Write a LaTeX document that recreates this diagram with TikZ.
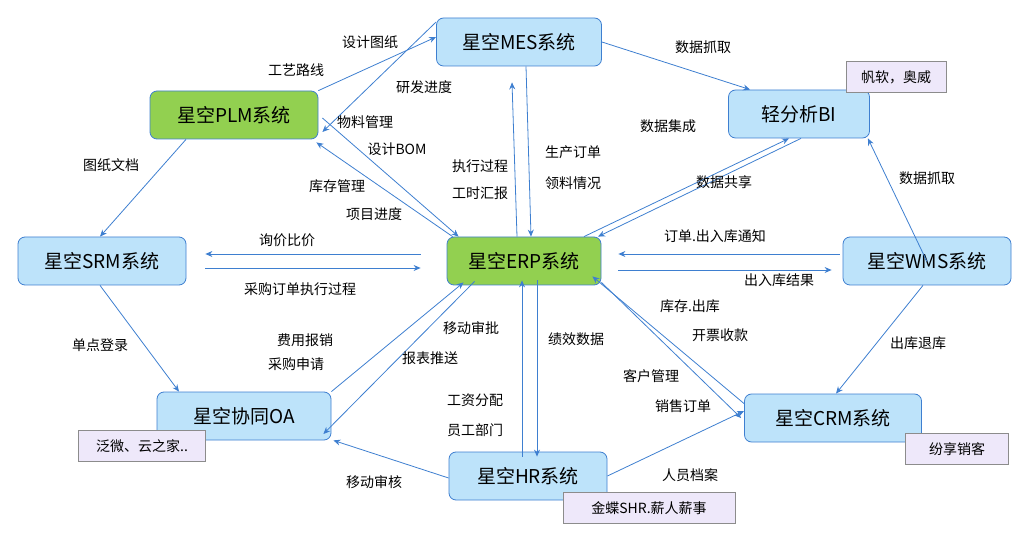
\documentclass[tikz,border=0pt]{standalone}
\usepackage{fontspec}
\setmainfont{Noto Sans CJK SC}
\usetikzlibrary{arrows.meta}
\definecolor{boxblue}{HTML}{BDE3FA}
\definecolor{lineblue}{HTML}{3E7FD0}
\definecolor{boxgreen}{HTML}{92D050}
\definecolor{taglav}{HTML}{EEE8FA}
\tikzset{sys/.style={rectangle,rounded corners=7pt,draw=lineblue,fill=boxblue,thick,font=\fontsize{19}{19}\selectfont,minimum height=48pt,inner sep=0pt}}
\tikzset{core/.style={sys,fill=boxgreen,draw=lineblue}}
\tikzset{tag/.style={rectangle,draw=black!45,fill=taglav,font=\fontsize{14}{14}\selectfont,minimum height=31pt,inner sep=0pt}}
\tikzset{t/.style={font=\fontsize{14}{14}\selectfont,inner sep=0pt}}
\tikzset{arr/.style={draw=lineblue,thick,-{Stealth[length=7pt,width=6pt]}}}

\begin{document}
\begin{tikzpicture}[x=1pt,y=-1pt]
      \useasboundingbox (0,0) rectangle (1027,534);
      \node[sys,minimum width=165pt] (MES) at (519,42) {星空MES系统};
      \node[core,minimum width=168pt] (PLM) at (234,115) {星空PLM系统};
      \node[sys,minimum width=141pt] (BI) at (799,114) {轻分析BI};
      \node[sys,minimum width=168pt] (SRM) at (102,261) {星空SRM系统};
      \node[core,minimum width=154pt] (ERP) at (524,261) {星空ERP系统};
      \node[sys,minimum width=168pt] (WMS) at (927,261) {星空WMS系统};
      \node[sys,minimum width=174pt] (OA) at (244,416) {星空协同OA};
      \node[sys,minimum width=177pt] (CRM) at (833,418) {星空CRM系统};
      \node[sys,minimum width=158pt] (HR) at (528,476) {星空HR系统};
      \node[tag,minimum width=100pt] (T1) at (896,77) {帆软，奥威};
      \node[tag,minimum width=127pt] (T2) at (142,446) {泛微、云之家..};
      \node[tag,minimum width=103pt] (T3) at (957,449) {纷享销客};
      \node[tag,minimum width=172pt] (T4) at (649,508) {金蝶SHR.薪人薪事};
      % connectors
      \draw[arr] (PLM.north east) -- ([yshift=5]MES.west);
      \draw[arr] ([yshift=20]MES.west) -- ([xshift=4,yshift=-17]PLM.east);
      \draw[arr] (MES.east) -- ([xshift=22]BI.north west);
      \draw[arr] ([xshift=60]ERP.north) -- ([xshift=-10]BI.south);
      \draw[arr] ([xshift=2]BI.south) -- ([xshift=74]ERP.north);
      \draw[arr] ([xshift=7]MES.south) -- ([xshift=7]ERP.north);
      \draw[arr] ([xshift=-7]ERP.north) -- ([xshift=-7,yshift=-16]MES.south);
      \draw[arr] ([xshift=4,yshift=-3]PLM.east) -- ([xshift=12]ERP.north west);
      \draw[arr] ([xshift=6]ERP.north west) -- ([xshift=-2,yshift=-3]PLM.south east);
      \draw[arr] ([xshift=-48]PLM.south) -- ([xshift=-2]SRM.north);
      \draw[arr] ([xshift=19,yshift=-7]SRM.east) -- ([xshift=-26,yshift=-7]ERP.west);
      \draw[arr] ([xshift=-26,yshift=7]ERP.west) -- ([xshift=19,yshift=7]SRM.east);
      \draw[arr] ([xshift=17,yshift=-9]ERP.east) -- ([xshift=-11,yshift=-9]WMS.west);
      \draw[arr] ([xshift=-3,yshift=7]WMS.west) -- ([xshift=17,yshift=7]ERP.east);
      \draw[arr] ([yshift=-25]WMS.north) -- ([xshift=-2]BI.south east);
      \draw[arr] ([xshift=-4]WMS.south) -- ([xshift=3]CRM.north);
      \draw[arr] ([xshift=-2]SRM.south) -- ([xshift=-65]OA.north);
      \draw[arr] ([xshift=0]OA.north east) -- ([xshift=17,yshift=3]ERP.south west);
      \draw[arr] ([xshift=28,yshift=4]ERP.south west) -- ([xshift=-8,yshift=-18]OA.east);
      \draw[arr] ([xshift=13,yshift=5]ERP.south) -- ([xshift=9,yshift=-5]HR.north);
      \draw[arr] ([xshift=-6,yshift=-5]HR.north) -- ([xshift=-2,yshift=5]ERP.south);
      \draw[arr] ([yshift=3]ERP.south east) -- ([xshift=-3]CRM.west);
      \draw[arr] ([yshift=-10]CRM.north west) -- ([xshift=-9,yshift=9]ERP.south east);
      \draw[arr] ([yshift=-2]HR.west) -- ([xshift=2]OA.south east);
      \draw[arr] (HR.east) -- ([yshift=7]CRM.west);
      % labels
      \node[t] (L1) at (370,42) {设计图纸};
      \node[t] (L2) at (296,70) {工艺路线};
      \node[t] (L3) at (424,87) {研发进度};
      \node[t] (L4) at (703,47) {数据抓取};
      \node[t] (L5) at (668,126) {数据集成};
      \node[t] (L6) at (724,182) {数据共享};
      \node[t] (L7) at (573,152) {生产订单};
      \node[t] (L8) at (573,183) {领料情况};
      \node[t] (L9) at (480,166) {执行过程};
      \node[t] (L10) at (480,193) {工时汇报};
      \node[t] (L11) at (365,122) {物料管理};
      \node[t] (L12) at (397,149) {设计BOM};
      \node[t] (L13) at (337,186) {库存管理};
      \node[t] (L14) at (374,214) {项目进度};
      \node[t] (L15) at (111,165) {图纸文档};
      \node[t] (L16) at (287,240) {询价比价};
      \node[t] (L17) at (300,289) {采购订单执行过程};
      \node[t] (L18) at (715,236) {订单.出入库通知};
      \node[t] (L19) at (779,280) {出入库结果};
      \node[t] (L20) at (927,178) {数据抓取};
      \node[t] (L21) at (918,343) {出库退库};
      \node[t] (L22) at (100,345) {单点登录};
      \node[t] (L23) at (305,340) {费用报销};
      \node[t] (L24) at (296,364) {采购申请};
      \node[t] (L25) at (471,328) {移动审批};
      \node[t] (L26) at (430,358) {报表推送};
      \node[t] (L27) at (576,339) {绩效数据};
      \node[t] (L28) at (475,400) {工资分配};
      \node[t] (L29) at (475,430) {员工部门};
      \node[t] (L30) at (690,306) {库存.出库};
      \node[t] (L31) at (720,335) {开票收款};
      \node[t] (L32) at (651,376) {客户管理};
      \node[t] (L33) at (683,406) {销售订单};
      \node[t] (L34) at (374,482) {移动审核};
      \node[t] (L35) at (690,475) {人员档案};
\end{tikzpicture}
\end{document}
